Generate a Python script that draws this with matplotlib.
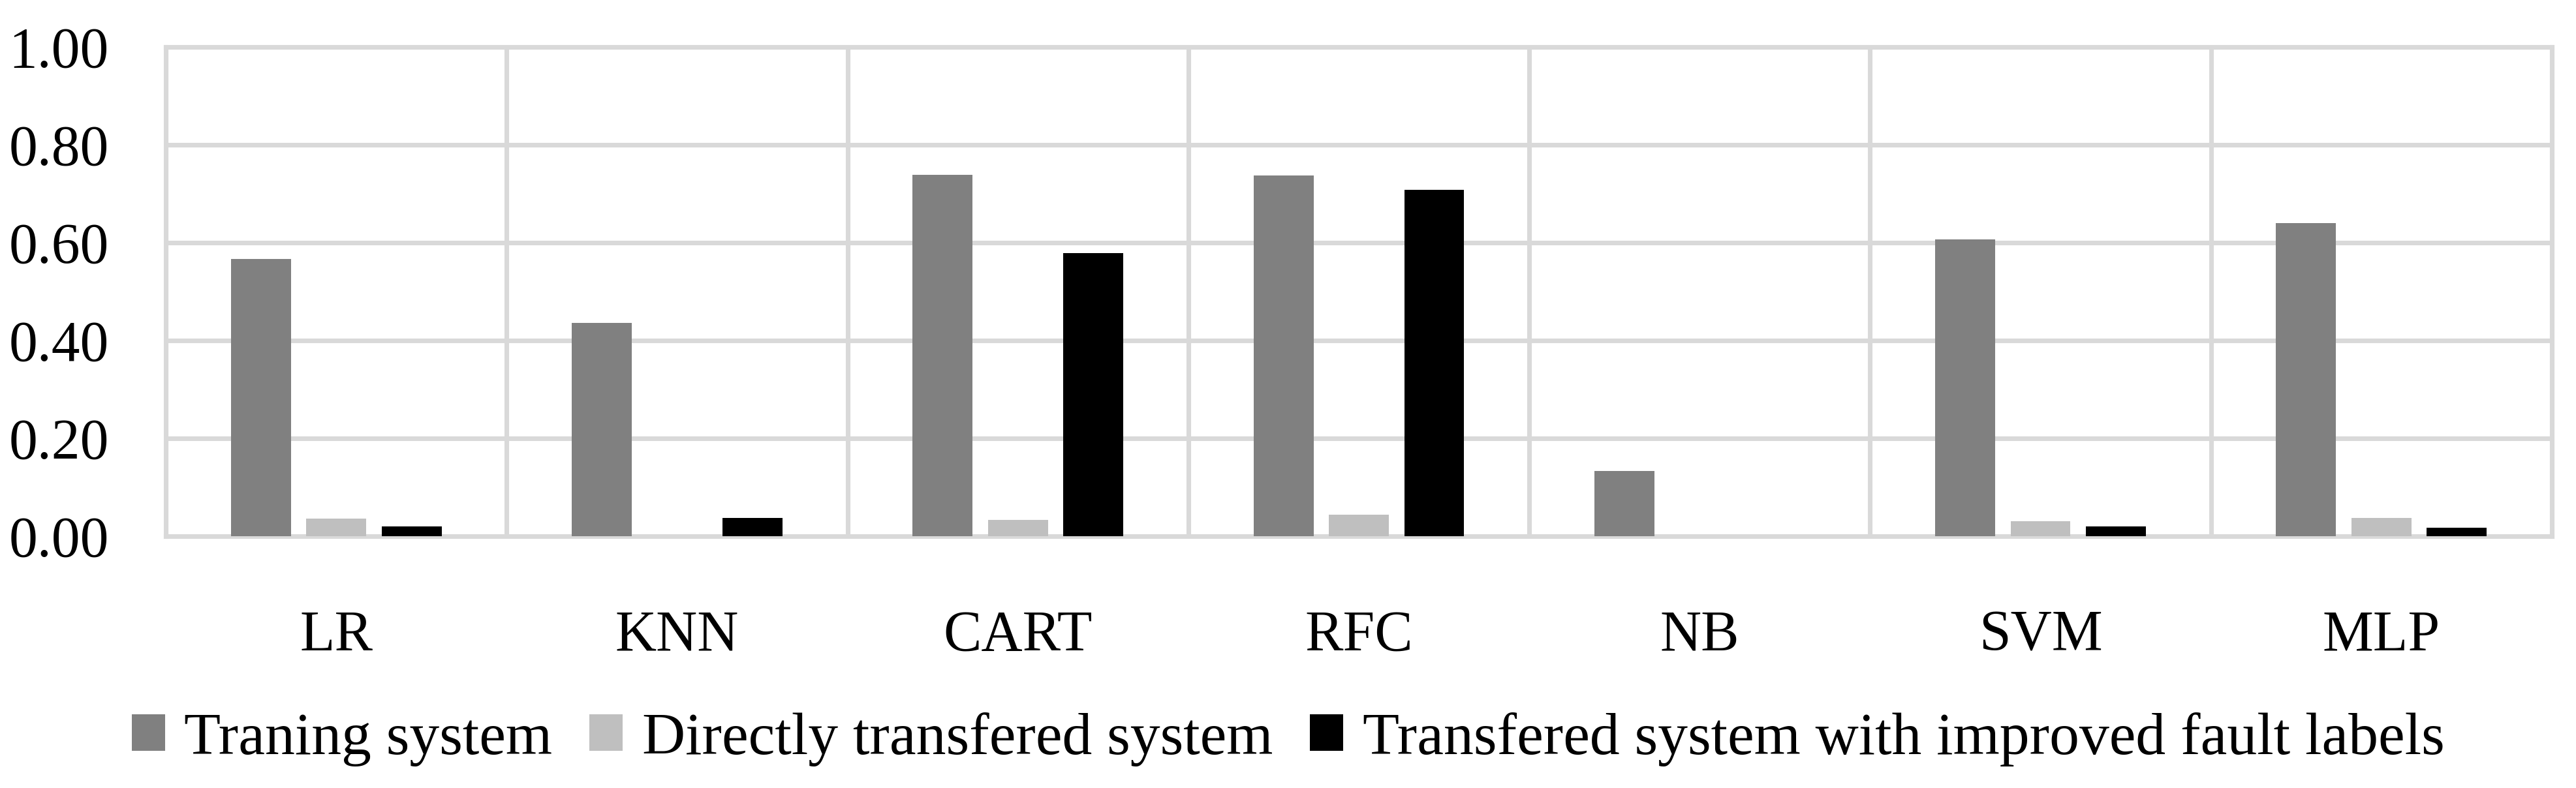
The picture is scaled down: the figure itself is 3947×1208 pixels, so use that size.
import numpy as np
import matplotlib
matplotlib.use("Agg")
import matplotlib.pyplot as plt

# ----- data -----
models = ["LR", "KNN", "CART", "RFC", "NB", "SVM", "MLP"]
training = [0.567, 0.436, 0.739, 0.737, 0.133, 0.607, 0.640]
direct = [0.036, 0.0, 0.034, 0.044, 0.0, 0.031, 0.038]
improved = [0.020, 0.037, 0.579, 0.708, 0.0, 0.020, 0.018]
series_names = ["Traning system", "Directly transfered system",
                "Transfered system with improved fault labels"]
yticks = [0.0, 0.2, 0.4, 0.6, 0.8, 1.0]

plt.rcParams["font.family"] = ["Liberation Serif", "DejaVu Serif"]

fig = plt.figure(figsize=(3947 / 300, 1208 / 300), dpi=300)
ax = fig.add_axes([0.0644, 0.3195, 0.9262, 0.6209])

x = np.arange(len(models))
w = 0.176
step = 0.221
colors = ["#808080", "#bfbfbf", "#000000"]
for i, (vals, name) in enumerate(zip([training, direct, improved], series_names)):
    ax.bar(x + (i - 1) * step, vals, width=w, color=colors[i], label=name, zorder=3)

ax.set_xlim(-0.5, len(models) - 0.5)
ax.set_ylim(0, 1.0)
ax.set_yticks(yticks)
ax.set_yticklabels([f"{v:.2f}" for v in yticks])
ax.set_xticks(x)
ax.set_xticklabels(models)
ax.set_xticks(np.arange(-0.5, len(models), 1.0), minor=True)

grid_c = "#d9d9d9"
ax.grid(axis="y", which="major", color=grid_c, linewidth=1.7, zorder=0)
ax.grid(axis="x", which="minor", color=grid_c, linewidth=1.7, zorder=0)
ax.grid(axis="x", which="major", visible=False)
for s in ax.spines.values():
    s.set_color(grid_c)
    s.set_linewidth(1.7)

ax.tick_params(axis="both", which="both", length=0)
ax.tick_params(axis="y", labelsize=21, pad=21)
ax.tick_params(axis="x", labelsize=21, pad=27)

fig.legend(loc="center", bbox_to_anchor=(0.5, 0.062), ncol=3, frameon=False,
           fontsize=22, handlelength=0.56, handleheight=0.56,
           handletextpad=0.32, columnspacing=0.62)

fig.savefig("out.png", dpi=300)
